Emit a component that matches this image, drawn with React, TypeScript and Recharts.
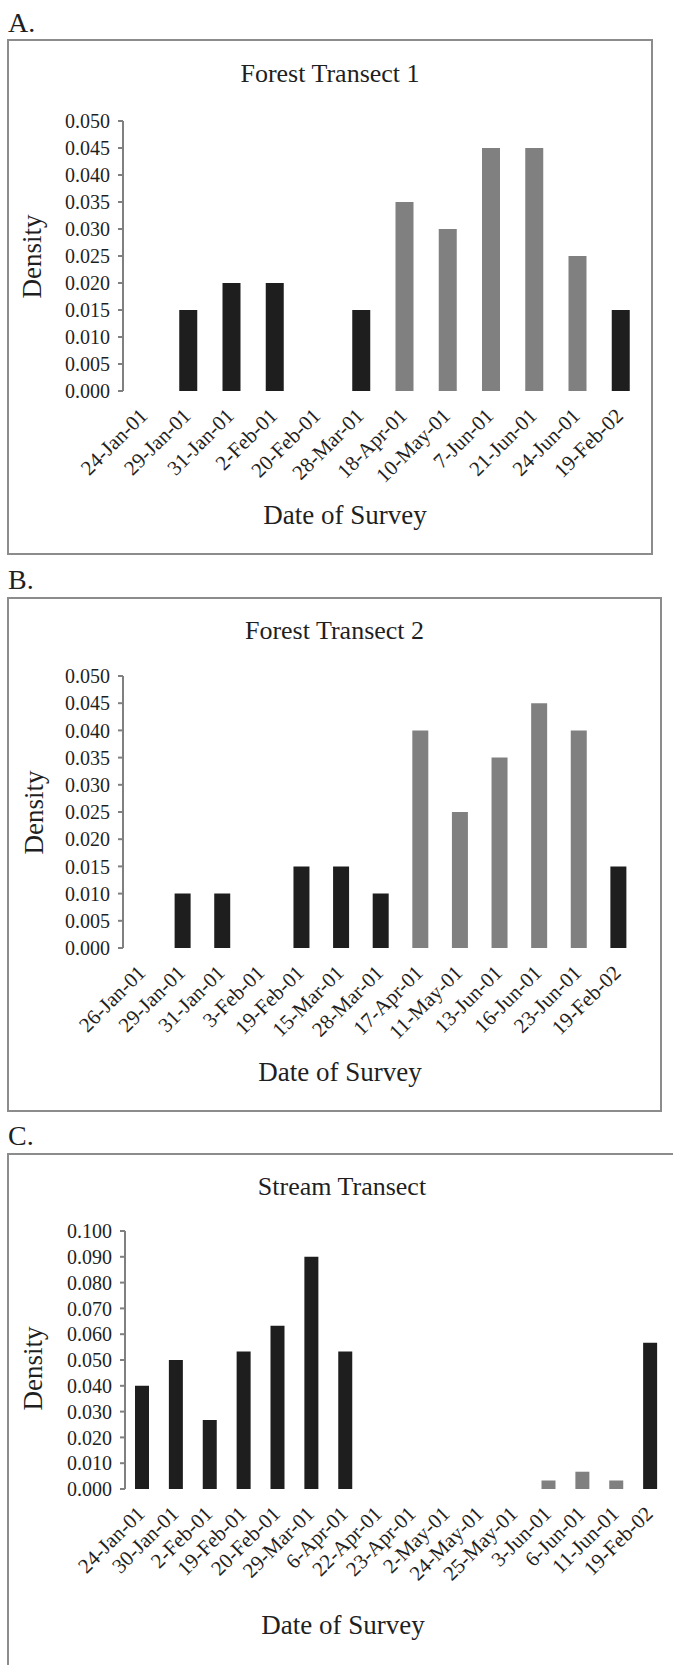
import { BarChart, Bar, XAxis, YAxis } from 'recharts';

// Forest Transect 1
const forest1Dates = [
  '24-Jan-01', '29-Jan-01', '31-Jan-01', '2-Feb-01', '20-Feb-01', '28-Mar-01',
  '18-Apr-01', '10-May-01', '7-Jun-01', '21-Jun-01', '24-Jun-01', '19-Feb-02',
];
const forest1Dark = [0, 0.015, 0.02, 0.02, 0, 0.015, 0, 0, 0, 0, 0, 0.015];
const forest1Grey = [0, 0, 0, 0, 0, 0, 0.035, 0.03, 0.045, 0.045, 0.025, 0];

// Forest Transect 2
const forest2Dates = [
  '26-Jan-01', '29-Jan-01', '31-Jan-01', '3-Feb-01', '19-Feb-01', '15-Mar-01', '28-Mar-01',
  '17-Apr-01', '11-May-01', '13-Jun-01', '16-Jun-01', '23-Jun-01', '19-Feb-02',
];
const forest2Dark = [0, 0.01, 0.01, 0, 0.015, 0.015, 0.01, 0, 0, 0, 0, 0, 0.015];
const forest2Grey = [0, 0, 0, 0, 0, 0, 0, 0.04, 0.025, 0.035, 0.045, 0.04, 0];

// Stream Transect
const streamDates = [
  '24-Jan-01', '30-Jan-01', '2-Feb-01', '19-Feb-01', '20-Feb-01', '29-Mar-01', '6-Apr-01',
  '22-Apr-01', '23-Apr-01', '2-May-01', '24-May-01', '25-May-01', '3-Jun-01', '6-Jun-01',
  '11-Jun-01', '19-Feb-02',
];
const streamDark = [0.04, 0.05, 0.0267, 0.0533, 0.0633, 0.09, 0.0533, 0, 0, 0, 0, 0, 0, 0, 0, 0.0567];
const streamGrey = [0, 0, 0, 0, 0, 0, 0, 0, 0, 0, 0, 0, 0.0033, 0.0067, 0.0033, 0];

const forestTicks = [0, 0.005, 0.01, 0.015, 0.02, 0.025, 0.03, 0.035, 0.04, 0.045, 0.05];
const streamTicks = [0, 0.01, 0.02, 0.03, 0.04, 0.05, 0.06, 0.07, 0.08, 0.09, 0.1];

const FONT = '"Liberation Serif", "Times New Roman", serif';
const INK = '#1f1f1f';
const BORDER = '#8c8c8c';
const DARK = '#1e1e1e';
const GREY = '#808080';

const SlantTick = (props: any) => {
  const { x, y, payload } = props;
  const ax = x + 4;
  const ay = y + 26;
  return (
    <text
      x={ax}
      y={ay}
      transform={`rotate(-45 ${ax} ${ay})`}
      textAnchor='end'
      fontSize={21}
      fontFamily={FONT}
      fill={INK}
      stroke='none'
    >
      {payload.value}
    </text>
  );
};

const Panel = (p: any) => {
  const data = p.dates.map((date: string, i: number) => ({
    date,
    edge: i,
    dark: p.dark[i],
    grey: p.grey[i],
  }));
  const n = p.dates.length;
  const edges = Array.from({ length: n + 1 }, (_, i) => i);
  const chartH = p.boxH;
  const chartW = p.chartW;
  const axisColor = p.axisColor;

  return (
    <>
      <div
        style={{
          position: 'absolute',
          left: 8,
          top: p.letterTop,
          fontSize: 28,
          lineHeight: '28px',
          fontFamily: FONT,
          color: INK,
        }}
      >
        {p.letter}
      </div>
      <div
        style={{
          position: 'absolute',
          left: 7,
          top: p.boxTop,
          width: p.boxW,
          height: p.boxH,
          border: `2px solid ${BORDER}`,
          boxSizing: 'border-box',
        }}
      />
      <div
        style={{
          position: 'absolute',
          left: p.titleX - 200,
          width: 400,
          top: p.titleTop,
          textAlign: 'center',
          fontSize: 26,
          lineHeight: '26px',
          fontFamily: FONT,
          color: INK,
        }}
      >
        {p.title}
      </div>
      <div
        style={{
          position: 'absolute',
          left: p.xLabelX - 200,
          width: 400,
          top: p.xLabelTop,
          textAlign: 'center',
          fontSize: 27,
          lineHeight: '27px',
          fontFamily: FONT,
          color: INK,
        }}
      >
        Date of Survey
      </div>
      <div
        style={{
          position: 'absolute',
          left: p.yLabelX - 100,
          width: 200,
          top: p.yLabelY - 13.5,
          textAlign: 'center',
          fontSize: 27,
          lineHeight: '27px',
          fontFamily: FONT,
          color: INK,
          transform: 'rotate(-90deg)',
        }}
      >
        Density
      </div>
      <div style={{ position: 'absolute', left: 0, top: p.boxTop }}>
        <BarChart
          width={chartW}
          height={chartH}
          data={data}
          barSize={p.barSize}
          margin={{ top: p.plotTop - p.boxTop, right: chartW - p.plotRight, bottom: 0, left: 0 }}
        >
          {/* tick marks between categories, Excel style */}
          <XAxis
            xAxisId={0}
            dataKey='edge'
            type='number'
            domain={[0, n]}
            ticks={edges}
            interval={0}
            allowDataOverflow
            tickFormatter={() => ''}
            tickSize={6}
            height={0}
            stroke={axisColor}
            strokeWidth={2}
          />
          <XAxis
            xAxisId='cat'
            dataKey='date'
            type='category'
            height={chartH - (p.plotBottom - p.boxTop)}
            interval={0}
            tickLine={false}
            axisLine={false}
            tickSize={0}
            tickMargin={0}
            tick={<SlantTick />}
          />
          <YAxis
            width={p.axisX}
            domain={[0, p.yMax]}
            ticks={p.yTicks}
            interval={0}
            tickFormatter={(v: number) => v.toFixed(3)}
            tickSize={5}
            tickMargin={8}
            stroke={axisColor}
            strokeWidth={2}
            tick={{ fill: INK, stroke: 'none', fontSize: 20, fontFamily: FONT }}
          />
          <Bar xAxisId='cat' dataKey='dark' stackId='s' fill={DARK} isAnimationActive={false} />
          <Bar xAxisId='cat' dataKey='grey' stackId='s' fill={GREY} isAnimationActive={false} />
        </BarChart>
      </div>
    </>
  );
};

const App = () => {
  return (
    <div
      style={{
        position: 'absolute',
        left: 0,
        top: 0,
        width: 673,
        height: 1665,
        overflow: 'hidden',
        background: '#fff',
      }}
    >
      <Panel
        axisColor='gray'
        letter='A.'
        title='Forest Transect 1'
        dates={forest1Dates}
        dark={forest1Dark}
        grey={forest1Grey}
        yMax={0.05}
        yTicks={forestTicks}
        letterTop={8.6}
        boxTop={39}
        boxW={646}
        boxH={516}
        chartW={653}
        axisX={123}
        plotTop={121}
        plotBottom={391}
        plotRight={642}
        barSize={18}
        titleX={330}
        titleTop={60.5}
        xLabelX={345}
        xLabelTop={502.4}
        yLabelX={32}
        yLabelY={256}
      />
      <Panel
        axisColor='#808080'
        letter='B.'
        title='Forest Transect 2'
        dates={forest2Dates}
        dark={forest2Dark}
        grey={forest2Grey}
        yMax={0.05}
        yTicks={forestTicks}
        letterTop={565.6}
        boxTop={597}
        boxW={655}
        boxH={515}
        chartW={662}
        axisX={123}
        plotTop={676}
        plotBottom={948}
        plotRight={638}
        barSize={16}
        titleX={334.5}
        titleTop={618}
        xLabelX={340}
        xLabelTop={1059}
        yLabelX={34}
        yLabelY={812}
      />
      <Panel
        axisColor='rgb(128,128,128)'
        letter='C.'
        title='Stream Transect'
        dates={streamDates}
        dark={streamDark}
        grey={streamGrey}
        yMax={0.1}
        yTicks={streamTicks}
        letterTop={1121.6}
        boxTop={1153}
        boxW={690}
        boxH={530}
        chartW={673}
        axisX={125}
        plotTop={1231}
        plotBottom={1489}
        plotRight={667}
        barSize={14}
        titleX={342}
        titleTop={1174}
        xLabelX={343}
        xLabelTop={1612.4}
        yLabelX={33}
        yLabelY={1368}
      />
    </div>
  );
};

export default App;
